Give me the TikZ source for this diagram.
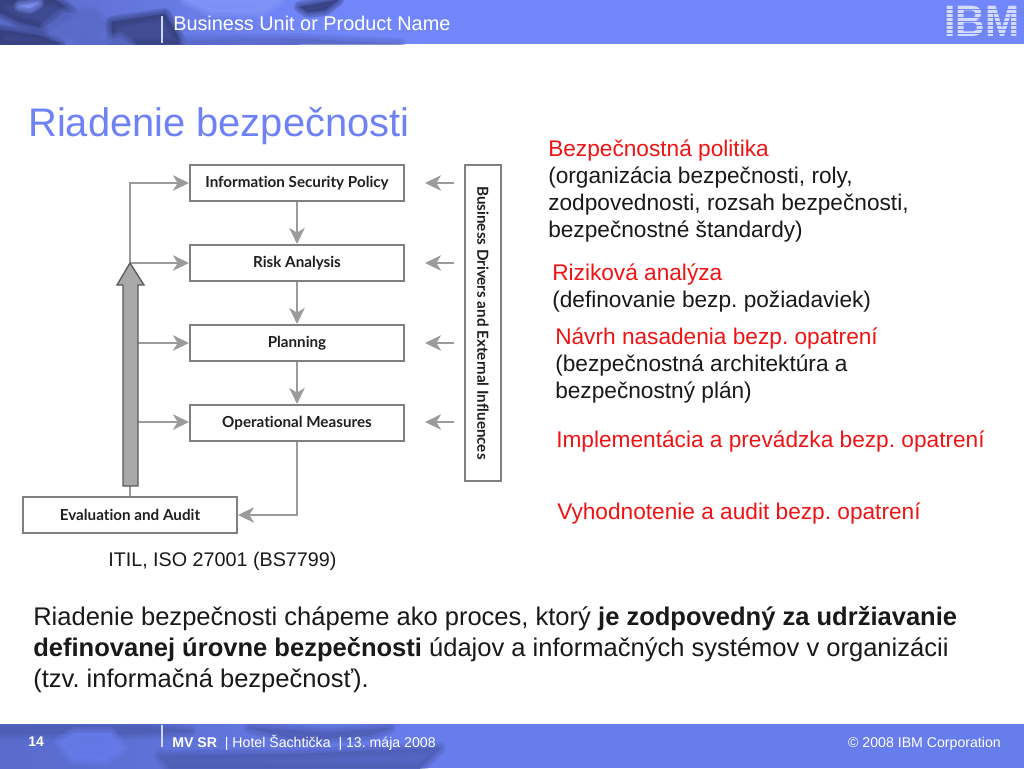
\documentclass[tikz,border=0pt]{standalone}
\usepackage{fontspec}
\setmainfont{Liberation Sans}
\newfontfamily\diafont[Ligatures=NoCommon]{Lato}
\usetikzlibrary{arrows.meta,calc}
\definecolor{band}{RGB}{113,134,248}
\definecolor{banddark}{RGB}{52,62,122}
\definecolor{bandmid}{RGB}{90,106,200}
\definecolor{bandlight}{RGB}{130,150,250}
\definecolor{foot}{RGB}{104,125,236}
\definecolor{footdark}{RGB}{78,94,180}
\definecolor{boxline}{RGB}{128,128,128}
\definecolor{arrowgray}{RGB}{155,155,155}
\definecolor{bigfill}{RGB}{168,168,168}
\definecolor{bigline}{RGB}{90,90,90}
\definecolor{titleblue}{RGB}{110,130,245}
\definecolor{redtext}{RGB}{238,20,20}
\definecolor{bodytext}{RGB}{25,25,25}
% soft-edged polygon, standing in for the blurred photo in the bands
\newcommand{\softpoly}[2]{%
  \foreach \ww in {9,6,3,0.5}{\filldraw[fill=#1,draw=#1,opacity=0.28,line width=\ww pt,line join=round] #2;}}
\tikzset{
 flowbox/.style={draw=boxline,line width=1.5pt,fill=white,minimum width=160.5pt,minimum height=27pt,inner sep=0pt,font=\diafont\bfseries\fontsize{11.4pt}{13pt}\selectfont,text=black!88},
 flowline/.style={draw=arrowgray,line width=1.8pt},
 flowarrow/.style={flowline,-{Stealth[length=12pt,width=11.5pt,inset=3.5pt]}},
 para/.style={anchor=north west,inner sep=0pt,align=left,text=bodytext,font=\frenchspacing\fontsize{17pt}{20.25pt}\selectfont},
 bandsep/.style={draw=white!65!band,line width=1pt},
}
\begin{document}
\begin{tikzpicture}[x=0.75pt,y=-0.75pt]
\useasboundingbox (0,0) rectangle (1024,768);
\fill[white] (0,0) rectangle (1024,768);
% header band
\begin{scope}
\clip (0,0) rectangle (1024,44);
\fill[band] (0,0) rectangle (1024,44);
\shade[left color=bandmid,right color=band] (0,0) rectangle (300,44);
\softpoly{banddark}{(0,0) -- (55,0) -- (72,12) -- (45,28) -- (20,22) -- (0,12) -- cycle}
\softpoly{banddark}{(0,30) -- (40,36) -- (60,44) -- (0,44) -- cycle}
\softpoly{bandmid}{(46,27) -- (64,13) -- (94,12) -- (108,26) -- (90,36) -- (60,36) -- cycle}
\softpoly{bandlight}{(20,6) -- (38,3) -- (30,8) -- cycle}
\softpoly{banddark}{(112,22) -- (165,14) -- (182,44) -- (112,44) -- cycle}
\softpoly{bandmid}{(78,42) -- (120,38) -- (130,44) -- (78,44) -- cycle}
\softpoly{bandlight}{(185,0) -- (280,0) -- (262,12) -- (212,12) -- cycle}
\softpoly{banddark}{(300,7) -- (338,0) -- (325,10) -- (308,12) -- cycle}
\softpoly{bandmid}{(185,41) -- (300,39) -- (400,44) -- (185,44) -- cycle}
\end{scope}
\draw[bandsep] (162,16) -- (162,43);
\node[anchor=base west,inner sep=0pt,text=white,font=\fontsize{14.9pt}{16pt}\selectfont] (unit) at (173,30) {Business Unit or Product Name};
% IBM logo
\begin{scope}
\clip (946,5) rectangle (1018,36);
\node[anchor=center,inner sep=0pt,text=white!70!band,xscale=0.93,font=\bfseries\fontsize{33pt}{34pt}\selectfont] (ibm) at (982,21) {IBM};
\foreach \yy in {8.5,12.5,16.5,20.5,24.5,28.5,32.5}
  \fill[band] (946,\yy) rectangle (1018,\yy+1.6);
\end{scope}
% footer band
\begin{scope}
\clip (0,724) rectangle (1024,768);
\fill[foot] (0,724) rectangle (1024,768);
\shade[left color=footdark!60!foot,right color=foot] (0,724) rectangle (420,768);
\softpoly{footdark}{(0,726) -- (150,727) -- (190,731) -- (120,734) -- (0,733) -- cycle}
\softpoly{foot}{(60,742) -- (75,733) -- (110,733) -- (122,748) -- (105,760) -- (72,758) -- cycle}
\softpoly{footdark}{(160,756) -- (300,754) -- (440,748) -- (420,768) -- (170,768) -- cycle}
\softpoly{footdark}{(250,728) -- (330,733) -- (390,728) -- (370,735) -- (300,740) -- cycle}
\end{scope}
\draw[bandsep] (162,725) -- (162,747);
\node[anchor=base west,inner sep=0pt,text=white,font=\bfseries\fontsize{10.5pt}{12pt}\selectfont] (pagenum) at (28,746) {14};
\node[anchor=base west,inner sep=0pt,text=white,font=\frenchspacing\fontsize{10.6pt}{12pt}\selectfont] (event) at (172,747) {\textbf{MV SR}\ \ | Hotel Šachtička\ \ | 13. mája 2008};
\node[anchor=base east,inner sep=0pt,text=white,font=\fontsize{10.6pt}{12pt}\selectfont] (copy) at (1001,747) {© 2008 IBM Corporation};
% title
\node[anchor=base west,inner sep=0pt,text=titleblue,font=\fontsize{29.9pt}{32pt}\selectfont] (title) at (28,136) {Riadenie bezpečnosti};
% diagram boxes
\node[flowbox] (info) at (297,183) {Information Security Policy};
\node[flowbox] (risk) at (297,263) {Risk Analysis};
\node[flowbox] (plan) at (297,343) {Planning};
\node[flowbox] (oper) at (297,423) {Operational Measures};
\node[flowbox] (eval) at (130,515) {Evaluation and Audit};
\node[flowbox,minimum width=27pt,minimum height=237pt] (biz) at (483,323) {};
\node[rotate=-90,inner sep=0pt,font=\diafont\bfseries\fontsize{11.4pt}{13pt}\selectfont,text=black!88] (biztext) at (483,323) {Business Drivers and External Influences};
% big arrow
\coordinate (tip) at (130,263);
\coordinate (shaftfoot) at (130,486);
\coordinate (corner) at (130,183);
\coordinate (planbranch) at (138,343);
\coordinate (operbranch) at (138,422);
\foreach \nm/\yy in {infoin/183,riskin/263,planin/343,operin/422}{\coordinate (\nm) at (454,\yy);}
\draw[flowline] (eval.north -| shaftfoot) -- (shaftfoot);
\draw[flowarrow] (tip) -- (corner) -- (corner -| info.west);
\draw[flowarrow] (tip) -- (risk.west);
\draw[flowarrow] (planbranch) -- (planbranch -| plan.west);
\draw[flowarrow] (operbranch) -- (operbranch -| oper.west);
\draw[fill=bigfill,draw=bigline,line width=1pt,line join=miter] (tip) -- (144,285) -- (138,285) -- (138,486) -- (123,486) -- (123,285) -- (117,285) -- cycle;
% flow arrows
\draw[flowarrow] (info.south) -- (risk.north);
\draw[flowarrow] (risk.south) -- (plan.north);
\draw[flowarrow] (plan.south) -- (oper.north);
\draw[flowarrow] (oper.south) |- (eval.east);
\foreach \nm in {infoin,riskin,planin,operin}{\draw[flowarrow] (\nm) -- ++(-29,0);}
% right column
\node[para] (t1) at (548,140) {\textcolor{redtext}{Bezpečnostná politika}\\(organizácia bezpečnosti, roly,\\zodpovednosti, rozsah bezpečnosti,\\bezpečnostné štandardy)};
\node[para] (t2) at (552,264) {\textcolor{redtext}{Riziková analýza}\\(definovanie bezp. požiadaviek)};
\node[para] (t3) at (555,328) {\textcolor{redtext}{Návrh nasadenia bezp. opatrení}\\(bezpečnostná architektúra a\\bezpečnostný plán)};
\node[para,text=redtext] (t4) at (556,431) {Implementácia a prevádzka bezp. opatrení};
\node[para,text=redtext] (t5) at (557,503) {Vyhodnotenie a audit bezp. opatrení};
\node[para,font=\fontsize{14.8pt}{16pt}\selectfont] (src) at (108,552) {ITIL, ISO 27001 (BS7799)};
\node[para,font=\frenchspacing\fontsize{19.15pt}{23.25pt}\selectfont] (body) at (33,606.5) {Riadenie bezpečnosti chápeme ako proces, ktorý \textbf{je zodpovedný za udržiavanie}\\\textbf{definovanej úrovne bezpečnosti} údajov a informačných systémov v organizácii\\(tzv. informačná bezpečnosť).};
\end{tikzpicture}
\end{document}
